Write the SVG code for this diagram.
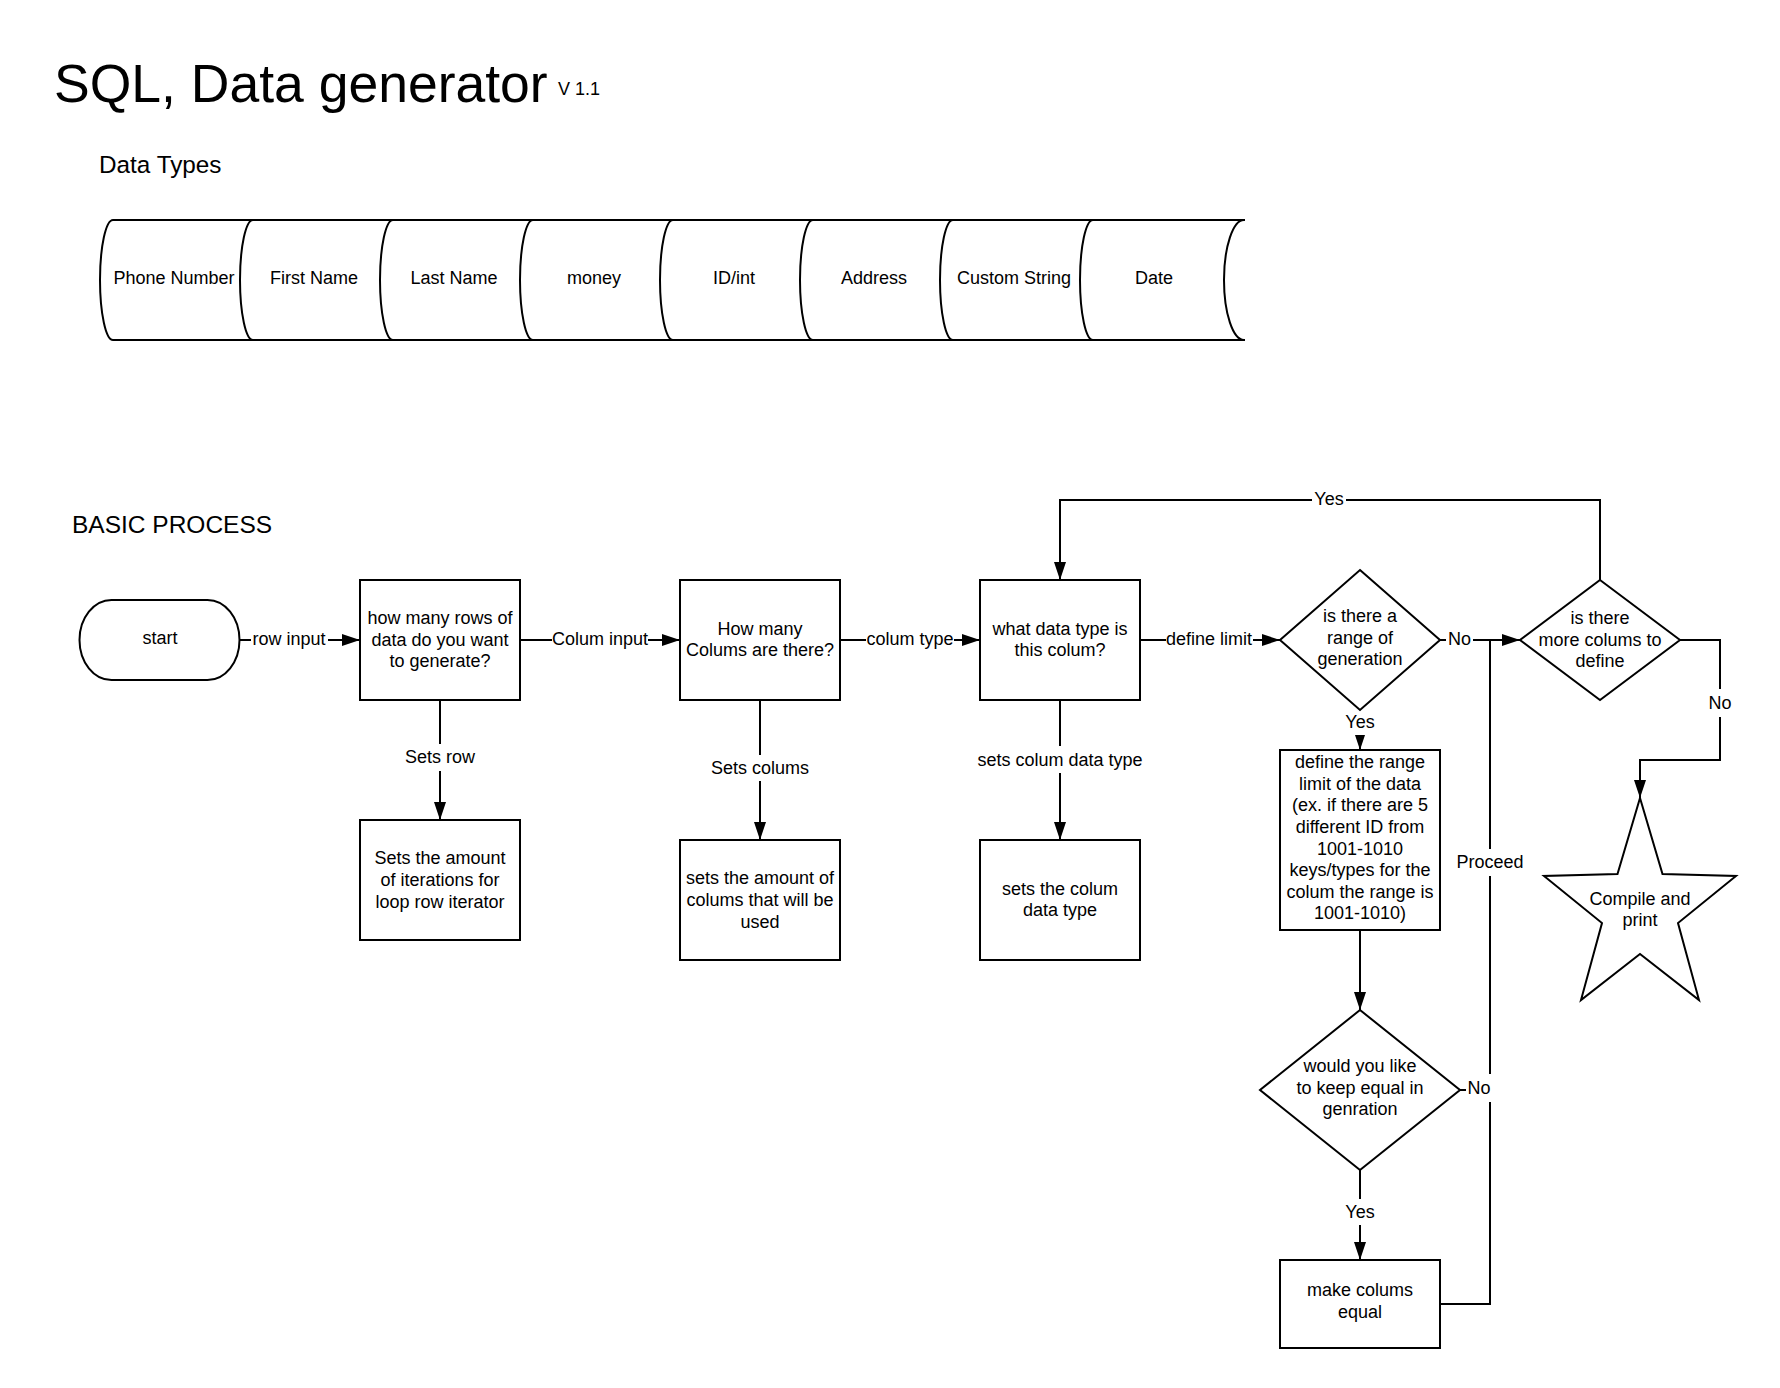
<svg xmlns="http://www.w3.org/2000/svg" width="1780" height="1388" viewBox="0 0 1780 1388">
<style>
.s{fill:#fff;stroke:#000;stroke-width:2}
.o{fill:none;stroke:#000;stroke-width:2}
.t{font-family:"Liberation Sans",Arial,sans-serif;font-size:18px;fill:#000;text-anchor:middle}
.h{font-family:"Liberation Sans",Arial,sans-serif;fill:#000}
.c{fill:none;stroke:#000;stroke-width:2}
.lb{fill:#fff}
</style>
<defs>
<marker id="arr" markerWidth="18" markerHeight="12" refX="18" refY="6" orient="auto" markerUnits="userSpaceOnUse"><path d="M0,0 L18,6 L0,12 Z" fill="#000"/></marker>
</defs>
<rect width="1780" height="1388" fill="#fff"/>
<g id="titles">
<text class="h" x="54" y="102" font-size="53.5">SQL, Data generator</text>
<text class="h" x="558" y="95" font-size="18">V 1.1</text>
<text class="h" x="99" y="173" font-size="24.3">Data Types</text>
<text class="h" x="72" y="533" font-size="24.5">BASIC PROCESS</text>
</g>
<g id="dt-phone"><path class="o" d="M113,220 L253,220 M113,220 A13 60 0 0 0 113,340 L253,340"/><text class="t" x="174" y="284">Phone Number</text></g>
<g id="dt-first"><path class="o" d="M253,220 L393,220 M253,220 A13 60 0 0 0 253,340 L393,340"/><text class="t" x="314" y="284">First Name</text></g>
<g id="dt-last"><path class="o" d="M393,220 L533,220 M393,220 A13 60 0 0 0 393,340 L533,340"/><text class="t" x="454" y="284">Last Name</text></g>
<g id="dt-money"><path class="o" d="M533,220 L673,220 M533,220 A13 60 0 0 0 533,340 L673,340"/><text class="t" x="594" y="284">money</text></g>
<g id="dt-id"><path class="o" d="M673,220 L813,220 M673,220 A13 60 0 0 0 673,340 L813,340"/><text class="t" x="734" y="284">ID/int</text></g>
<g id="dt-address"><path class="o" d="M813,220 L953,220 M813,220 A13 60 0 0 0 813,340 L953,340"/><text class="t" x="874" y="284">Address</text></g>
<g id="dt-custom"><path class="o" d="M953,220 L1093,220 M953,220 A13 60 0 0 0 953,340 L1093,340"/><text class="t" x="1014" y="284">Custom String</text></g>
<g id="dt-date"><path class="o" d="M1093,220 L1245,220 M1093,220 A13 60 0 0 0 1093,340 L1245,340 M1244,220 A20 60 0 0 0 1244,340"/><text class="t" x="1154" y="284">Date</text></g>
<g id="connectors">
<path class="c" d="M240,640 L360,640" marker-end="url(#arr)"/>
<path class="c" d="M520,640 L680,640" marker-end="url(#arr)"/>
<path class="c" d="M840,640 L980,640" marker-end="url(#arr)"/>
<path class="c" d="M1140,640 L1280,640" marker-end="url(#arr)"/>
<path class="c" d="M440,700 L440,820" marker-end="url(#arr)"/>
<path class="c" d="M760,700 L760,840" marker-end="url(#arr)"/>
<path class="c" d="M1060,700 L1060,840" marker-end="url(#arr)"/>
<path class="c" d="M1360,710 L1360,750" marker-end="url(#arr)"/>
<path class="c" d="M1360,930 L1360,1010" marker-end="url(#arr)"/>
<path class="c" d="M1360,1170 L1360,1260" marker-end="url(#arr)"/>
<path class="c" d="M1440,640 L1520,640" marker-end="url(#arr)"/>
<path class="c" d="M1440,1304 L1490,1304 L1490,640"/>
<path class="c" d="M1460,1090 L1490,1090"/>
<path class="c" d="M1600,580 L1600,500 L1060,500 L1060,580" marker-end="url(#arr)"/>
<path class="c" d="M1680,640 L1720,640 L1720,760 L1640,760 L1640,798" marker-end="url(#arr)"/>
<rect class="lb" x="251" y="627" width="77" height="26"/><text class="t" x="289" y="645">row input</text>
<rect class="lb" x="552" y="627" width="96" height="26"/><text class="t" x="600" y="645">Colum input</text>
<rect class="lb" x="866" y="627" width="88" height="26"/><text class="t" x="910" y="645">colum type</text>
<rect class="lb" x="1166" y="627" width="87" height="26"/><text class="t" x="1209" y="645">define limit</text>
<rect class="lb" x="404" y="744" width="72" height="27"/><text class="t" x="440" y="763">Sets row</text>
<rect class="lb" x="710" y="755" width="100" height="26"/><text class="t" x="760" y="774">Sets colums</text>
<rect class="lb" x="977" y="746" width="166" height="27"/><text class="t" x="1060" y="765.5">sets colum data type</text>
<rect class="lb" x="1343" y="709" width="34" height="26"/><text class="t" x="1360" y="728">Yes</text>
<rect class="lb" x="1343" y="1199" width="34" height="26"/><text class="t" x="1360" y="1218">Yes</text>
<rect class="lb" x="1446" y="627" width="27" height="26"/><text class="t" x="1459.5" y="645">No</text>
<rect class="lb" x="1466" y="1074" width="26" height="28"/><text class="t" x="1479" y="1094">No</text>
<rect class="lb" x="1455" y="849" width="70" height="27"/><text class="t" x="1490" y="868">Proceed</text>
<rect class="lb" x="1312" y="487" width="34" height="26"/><text class="t" x="1329" y="505">Yes</text>
<rect class="lb" x="1706" y="689" width="28" height="28"/><text class="t" x="1720" y="709">No</text>
</g>
<g id="start"><path class="s" d="M111.5,600 L207.5,600 A32 40 0 0 1 207.5,680 L111.5,680 A32 40 0 0 1 111.5,600 Z"/><text class="t" x="160" y="644">start</text></g>
<g id="rows-q"><rect class="s" x="360" y="580" width="160" height="120"/><text class="t"><tspan x="440" y="624">how many rows of</tspan><tspan x="440" y="645.6">data do you want</tspan><tspan x="440" y="667.2">to generate?</tspan></text></g>
<g id="rows-set"><rect class="s" x="360" y="820" width="160" height="120"/><text class="t"><tspan x="440" y="864.4">Sets the amount</tspan><tspan x="440" y="886">of iterations for</tspan><tspan x="440" y="907.6">loop row iterator</tspan></text></g>
<g id="cols-q"><rect class="s" x="680" y="580" width="160" height="120"/><text class="t"><tspan x="760" y="634.8">How many</tspan><tspan x="760" y="656.4">Colums are there?</tspan></text></g>
<g id="cols-set"><rect class="s" x="680" y="840" width="160" height="120"/><text class="t"><tspan x="760" y="884.4">sets the amount of</tspan><tspan x="760" y="906">colums that will be</tspan><tspan x="760" y="927.6">used</tspan></text></g>
<g id="type-q"><rect class="s" x="980" y="580" width="160" height="120"/><text class="t"><tspan x="1060" y="634.8">what data type is</tspan><tspan x="1060" y="656.4">this colum?</tspan></text></g>
<g id="type-set"><rect class="s" x="980" y="840" width="160" height="120"/><text class="t"><tspan x="1060" y="894.8">sets the colum</tspan><tspan x="1060" y="916.4">data type</tspan></text></g>
<g id="range-q"><path class="s" d="M1360,570 L1440,640 L1360,710 L1280,640 Z"/><text class="t"><tspan x="1360" y="622">is there a</tspan><tspan x="1360" y="643.6">range of</tspan><tspan x="1360" y="665.2">generation</tspan></text></g>
<g id="range-def"><rect class="s" x="1280" y="750" width="160" height="180"/><text class="t"><tspan x="1360" y="768.3">define the range</tspan><tspan x="1360" y="789.9">limit of the data</tspan><tspan x="1360" y="811.4">(ex. if there are 5</tspan><tspan x="1360" y="833">different ID from</tspan><tspan x="1360" y="854.6">1001-1010</tspan><tspan x="1360" y="876.2">keys/types for the</tspan><tspan x="1360" y="897.7">colum the range is</tspan><tspan x="1360" y="919.3">1001-1010)</tspan></text></g>
<g id="equal-q"><path class="s" d="M1360,1010 L1460,1090 L1360,1170 L1260,1090 Z"/><text class="t"><tspan x="1360" y="1072">would you like</tspan><tspan x="1360" y="1093.7">to keep equal in</tspan><tspan x="1360" y="1115.3">genration</tspan></text></g>
<g id="equal-make"><rect class="s" x="1280" y="1260" width="160" height="88"/><text class="t"><tspan x="1360" y="1296.3">make colums</tspan><tspan x="1360" y="1317.9">equal</tspan></text></g>
<g id="more-q"><path class="s" d="M1600,580 L1680,640 L1600,700 L1520,640 Z"/><text class="t"><tspan x="1600" y="624">is there</tspan><tspan x="1600" y="645.6">more colums to</tspan><tspan x="1600" y="667.2">define</tspan></text></g>
<g id="compile"><path class="s" d="M1640,798 L1662.5,874 L1736,876 L1678,923 L1699,1000 L1640,954 L1581,1000 L1602,923 L1544,876 L1617.5,874 Z"/><text class="t"><tspan x="1640" y="905">Compile and</tspan><tspan x="1640" y="926">print</tspan></text></g>
</svg>
